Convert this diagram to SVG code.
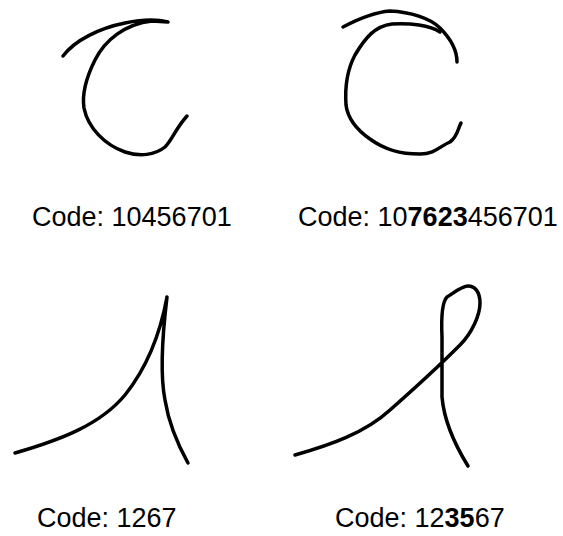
<svg xmlns="http://www.w3.org/2000/svg" width="563" height="536" viewBox="0 0 563 536">
<style>
.stroke{fill:none;stroke:#000;stroke-width:3.5;stroke-linecap:round;stroke-linejoin:round}
.lbl{font-family:"Liberation Sans",Arial,sans-serif;font-size:27px;fill:#000}
.b{font-weight:bold}
</style>
<rect width="563" height="536" fill="#fff"/>
<g id="fig1">
<path class="stroke" d="M63,56 C75,40 100,28 125,23 C145,19 160,20 168,22 L152,21 C125,24 105,40 95,60 C86,78 82,95 84,108 C88,128 105,145 125,152 C140,157 155,155 165,147 C172,140 176,128 187,116"/>
<text class="lbl" x="32" y="226">Code: 10456701</text>
</g>
<g id="fig2">
<path class="stroke" d="M343,27 C360,18 378,12 390,11 C410,12 430,18 440,28 C450,38 457,50 457,62"/>
<path class="stroke" d="M440,32 C430,25 410,23 392,24 C375,26 365,38 355,55 C347,70 345,90 346,105 C348,120 357,130 370,139 C385,150 400,154 420,154 C435,154 440,146 450,142 C458,136 458,128 461,123"/>
<text class="lbl" x="298" y="226">Code: 10<tspan class="b">7623</tspan>456701</text>
</g>
<g id="fig3">
<path class="stroke" d="M15,453 C60,440 100,425 125,395 C145,370 160,335 167,297 C163,330 160,375 165,400 C169,425 178,445 188,463"/>
<text class="lbl" x="37" y="527">Code: 1267</text>
</g>
<g id="fig4">
<path class="stroke" d="M295,455 C330,445 365,433 390,410 C415,388 440,365 460,345 C472,333 480,315 480,303 C480,292 475,286 468,286 C462,286 455,292 447,297 C442,302 441,315 442,337 L442,397 C444,420 455,445 468,466"/>
<text class="lbl" x="335" y="527">Code: 12<tspan class="b">35</tspan>67</text>
</g>
</svg>
